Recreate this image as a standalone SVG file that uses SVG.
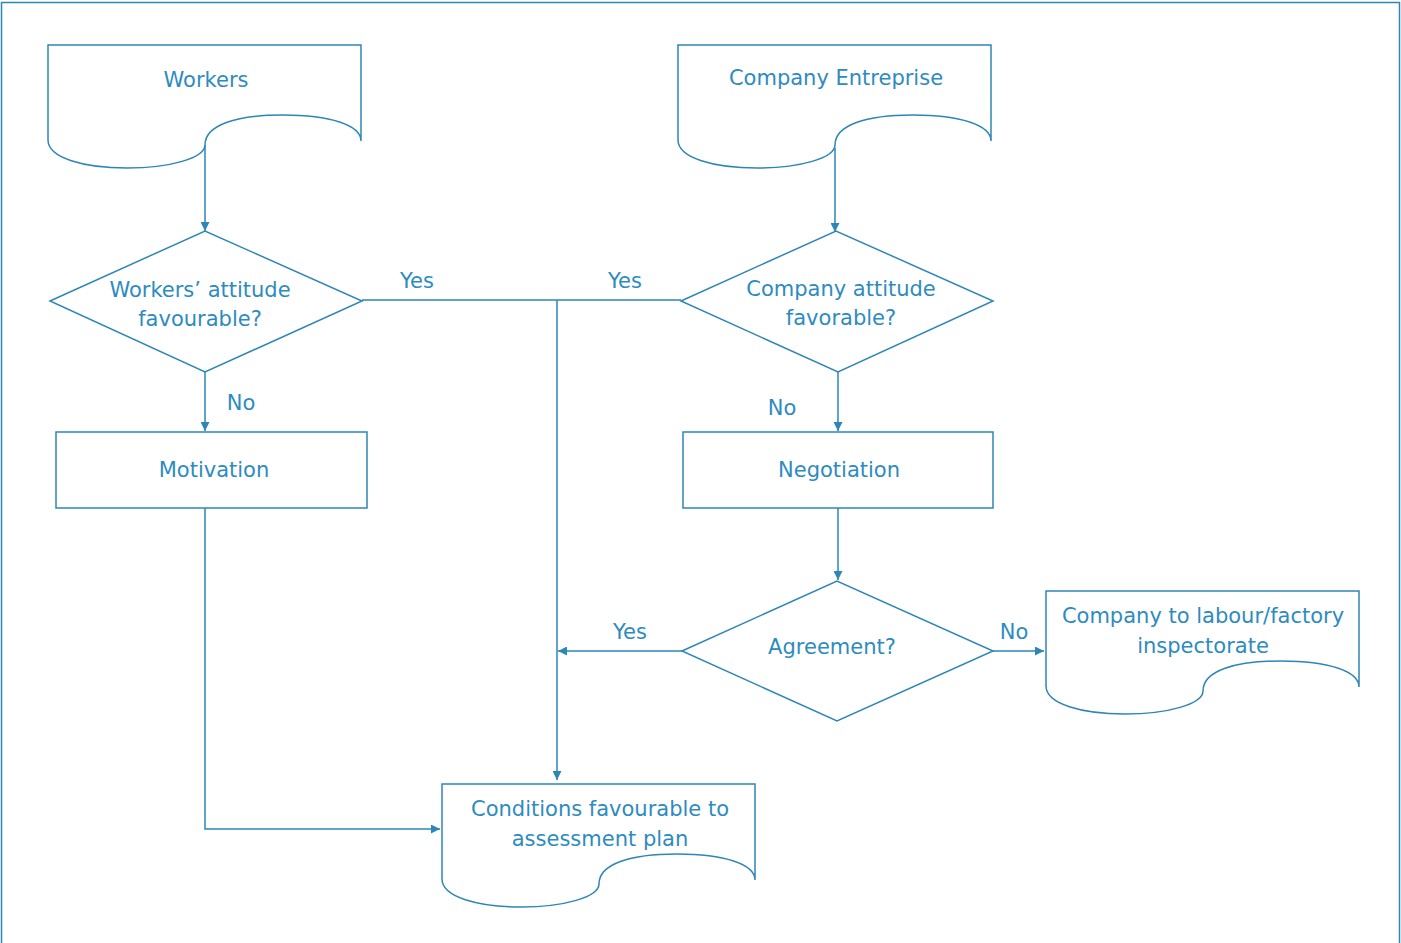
<svg xmlns="http://www.w3.org/2000/svg" width="1401" height="943" viewBox="0 0 1401 943">
<style>
.s{fill:#fff;stroke:#2e86b7;stroke-width:1.5}
.c{fill:none;stroke:#2e86b7;stroke-width:1.5}
text{font-family:"DejaVu Sans",Verdana,sans-serif;font-size:21px;fill:#2e8bc0;text-anchor:middle}
</style>
<defs>
<marker id="a" viewBox="0 0 10 10" refX="10" refY="5" markerWidth="10" markerHeight="9" markerUnits="userSpaceOnUse" orient="auto">
<path d="M0,0 L10,5 L0,10 Z" fill="#2e86b7"/>
</marker>
<path id="doc" d="M0,0 H313 V96 C313,80 282,70 235,70 C188,70 157,80 157,100 C157,113 122,123 79,123 C36,123 0,113 0,95 Z"/>
</defs>
<rect x="1.5" y="2.5" width="1398" height="960" fill="none" stroke="#2e86b7" stroke-width="1.5"/>
<g id="connectors">
<path class="c" d="M205,145 V231" marker-end="url(#a)"/>
<path class="c" d="M835,148 V232" marker-end="url(#a)"/>
<path class="c" d="M362,300 H681"/>
<path class="c" d="M557,300 V780" marker-end="url(#a)"/>
<path class="c" d="M205,372 V431" marker-end="url(#a)"/>
<path class="c" d="M838,372 V431" marker-end="url(#a)"/>
<path class="c" d="M205,508 V829 H440" marker-end="url(#a)"/>
<path class="c" d="M838,508 V580" marker-end="url(#a)"/>
<path class="c" d="M682,651 H558" marker-end="url(#a)"/>
<path class="c" d="M993,651 H1044" marker-end="url(#a)"/>
<text x="417" y="288">Yes</text>
<text x="625" y="288">Yes</text>
<text x="241" y="410">No</text>
<text x="782" y="415">No</text>
<text x="630" y="639">Yes</text>
<text x="1014" y="639">No</text>
</g>
<g id="workers">
<use href="#doc" x="48" y="45" class="s"/>
<text x="206" y="87">Workers</text>
</g>
<g id="company">
<use href="#doc" x="678" y="45" class="s"/>
<text x="836" y="85">Company Entreprise</text>
</g>
<g id="workers-attitude">
<polygon class="s" points="50,301 205,231 362,301 205,372"/>
<text x="200" y="297">Workers’ attitude</text>
<text x="200" y="326">favourable?</text>
</g>
<g id="company-attitude">
<polygon class="s" points="681,301 836,231 993,301 838,372"/>
<text x="841" y="296">Company attitude</text>
<text x="841" y="325">favorable?</text>
</g>
<g id="motivation">
<rect class="s" x="56" y="432" width="311" height="76"/>
<text x="214" y="477">Motivation</text>
</g>
<g id="negotiation">
<rect class="s" x="683" y="432" width="310" height="76"/>
<text x="839" y="477">Negotiation</text>
</g>
<g id="agreement">
<polygon class="s" points="682,651 837,581 993,651 837,721"/>
<text x="832" y="654">Agreement?</text>
</g>
<g id="inspectorate">
<use href="#doc" x="1046" y="591" class="s"/>
<text x="1203" y="623">Company to labour/factory</text>
<text x="1203" y="653">inspectorate</text>
</g>
<g id="conditions">
<use href="#doc" x="442" y="784" class="s"/>
<text x="600" y="816">Conditions favourable to</text>
<text x="600" y="846">assessment plan</text>
</g>
</svg>
